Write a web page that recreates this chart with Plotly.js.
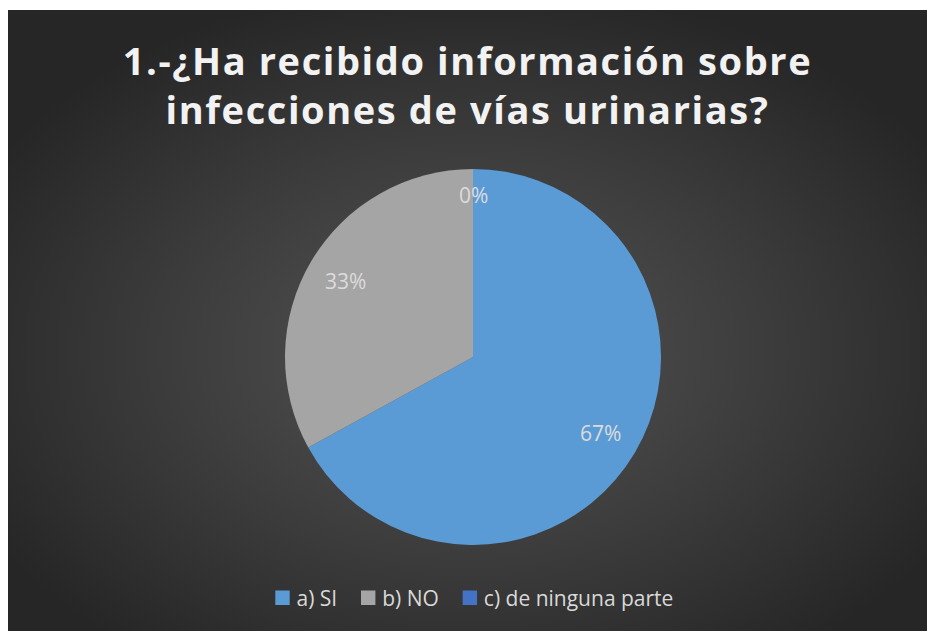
<!DOCTYPE html>
<html>
<head>
<meta charset="utf-8">
<script src="https://cdn.plot.ly/plotly-3.0.1.min.js"></script>
<style>
  html, body { margin: 0; padding: 0; background: #ffffff; }
  #chart {
    position: absolute; left: 8px; top: 10px; width: 919px; height: 621px;
    background: radial-gradient(ellipse 60% 60% at 50% 55%, #545454 0%, #3c3c3c 55%, #262626 100%);
  }
  #chart .gtitle { letter-spacing: 1.6px; }
</style>
</head>
<body>
<div id="chart"></div>
<script>
const categories = ["a) SI", "b) NO", "c) de ninguna parte"];
const values = [67, 33, 0];
const sliceColors = ["#5b9bd5", "#a5a5a5", "#4472c4"];
const titleText = "1.-¿Ha recibido información sobre<br>infecciones de vías urinarias?";

const W = 919, H = 621;
const dom = { x: [0.3014, 0.7106], y: [0.1385, 0.744] };

const trace = {
  type: "pie",
  labels: categories,
  values: values,
  sort: false,
  direction: "clockwise",
  rotation: 0,
  marker: { colors: sliceColors, line: { width: 0 } },
  textinfo: "none",
  domain: dom,
  hoverinfo: "none"
};

// Percent labels placed along each slice's mid-angle (derived from the values)
const total = values.reduce((a, b) => a + b, 0);
const cx = (dom.x[0] + dom.x[1]) / 2, cy = (dom.y[0] + dom.y[1]) / 2;
const rPx = Math.min((dom.x[1] - dom.x[0]) * W, (dom.y[1] - dom.y[0]) * H) / 2;
let cum = 0;
const annotations = values.map(v => {
  const frac = v / total;
  const mid = (cum + frac / 2) * 2 * Math.PI;
  cum += frac;
  const f = v === 0 ? 0.86 : 0.79;
  return {
    x: cx + rPx * f * Math.sin(mid) / W,
    y: cy + rPx * f * Math.cos(mid) / H,
    xref: "paper", yref: "paper",
    text: Math.round(frac * 100) + "%",
    showarrow: false,
    xanchor: "center", yanchor: "middle",
    font: { family: "Open Sans, sans-serif", size: 21, color: "#dcdcdc" }
  };
});

const layout = {
  width: W, height: H,
  margin: { l: 0, r: 0, t: 0, b: 0 },
  paper_bgcolor: "rgba(0,0,0,0)",
  plot_bgcolor: "rgba(0,0,0,0)",
  title: {
    text: titleText,
    font: { family: "Open Sans, sans-serif", size: 38, color: "#f2f2f2", weight: 700 },
    x: 0.5, xanchor: "center",
    y: 0.8956, yanchor: "middle", yref: "container"
  },
  annotations: annotations,
  showlegend: true,
  legend: {
    orientation: "h",
    x: 0.5, xanchor: "center",
    y: 0.053, yanchor: "middle",
    font: { family: "Open Sans, sans-serif", size: 21, color: "#d9d9d9" },
    traceorder: "normal",
    bgcolor: "rgba(0,0,0,0)"
  }
};

Plotly.newPlot("chart", [trace], layout, { displayModeBar: false, staticPlot: true }).then(gd => {
  gd.querySelectorAll(".legend .traces .legendpoints").forEach(el => {
    el.setAttribute("transform", "translate(2,0) scale(1.2)");
  });
});
</script>
</body>
</html>
